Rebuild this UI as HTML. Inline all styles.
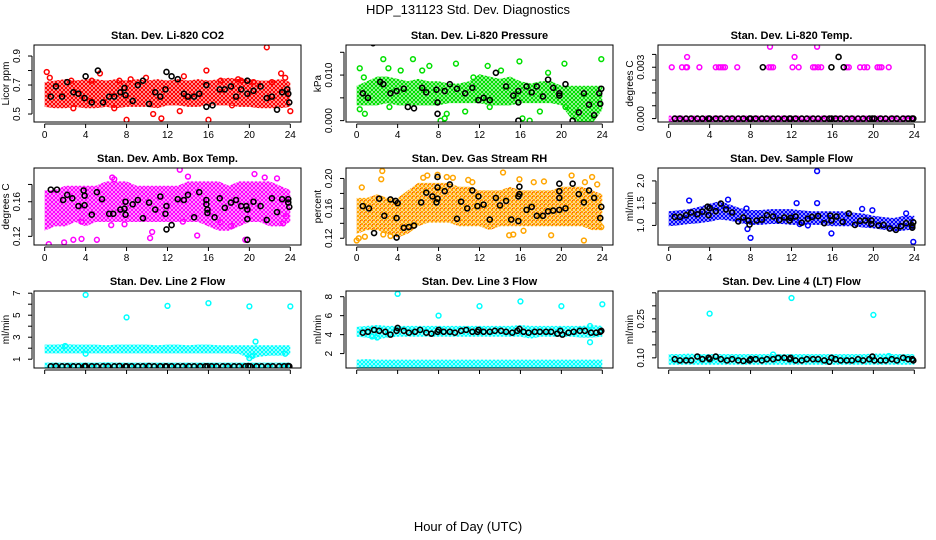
<!DOCTYPE html>
<html><head><meta charset="utf-8"><style>
html,body{margin:0;padding:0;background:#fff}
svg{display:block;font-family:"Liberation Sans",Arial,sans-serif}
</style></head><body>
<svg id="chart" width="936" height="540" viewBox="0 0 936 540" xmlns="http://www.w3.org/2000/svg">
<defs id="defs"></defs>
<text x="468" y="14" font-size="13" text-anchor="middle">HDP_131123  Std. Dev. Diagnostics</text>
<text x="468" y="531" font-size="13" text-anchor="middle">Hour of Day (UTC)</text>
</svg>
<script>
// ---------- shared data ----------
const hourTicks = [0,4,8,12,16,20,24];
const blackHours = [0.6,1.1,1.7,2.2,2.8,3.3,3.9,4.0,4.6,5.1,5.7,6.2,6.8,7.3,7.9,8.0,8.5,9.1,9.6,10.2,10.7,11.3,11.8,11.9,12.4,13.0,13.5,14.1,14.6,15.2,15.7,15.9,16.3,16.8,17.4,17.9,18.5,19.0,19.6,19.9,20.1,20.7,21.2,21.8,22.3,22.9,23.4,23.8,23.9];
const bandHours = [0,1,2,3,4,5,6,7,8,9,10,11,12,13,14,15,16,17,18,19,20,21,22,23,24];

// Panel 1: CO2
const co2Low  = [0.57,0.56,0.56,0.57,0.56,0.56,0.57,0.56,0.57,0.57,0.57,0.56,0.58,0.58,0.57,0.57,0.58,0.58,0.58,0.57,0.57,0.56,0.56,0.56,0.57];
const co2High = [0.70,0.71,0.72,0.71,0.72,0.72,0.71,0.72,0.71,0.72,0.71,0.72,0.71,0.72,0.71,0.72,0.71,0.72,0.73,0.72,0.72,0.71,0.71,0.72,0.70];
const co2OutH = [0.2,0.5,2.8,4.4,4.6,5.4,6.8,7.3,8.0,8.4,9.9,10.6,11.4,13.2,13.6,15.8,16.0,17.2,18.3,19.2,20.4,21.7,22.2,23.1,23.5,24,2.6,18.9];
const co2OutV = [0.79,0.75,0.54,0.59,0.73,0.78,0.54,0.73,0.46,0.74,0.75,0.50,0.47,0.52,0.76,0.80,0.46,0.73,0.56,0.73,0.72,0.96,0.72,0.78,0.75,0.52,0.73,0.74];
const co2BlkH = [0.6,1.1,1.7,2.2,2.8,3.3,3.9,4.0,4.6,5.2,5.7,6.3,6.8,7.4,7.8,7.9,8.6,9.1,9.6,10.2,10.8,11.3,11.8,11.9,12.4,13.0,13.6,14.0,14.6,15.1,15.8,15.8,16.4,17.1,17.6,18.2,18.7,19.2,19.8,19.8,20.4,21.1,21.7,22.2,22.7,23.2,23.7,23.9,23.8];
const co2BlkV = [0.62,0.69,0.62,0.72,0.65,0.64,0.61,0.76,0.58,0.80,0.58,0.62,0.62,0.65,0.68,0.63,0.59,0.70,0.73,0.57,0.65,0.62,0.67,0.79,0.76,0.74,0.64,0.62,0.62,0.64,0.70,0.55,0.56,0.67,0.67,0.69,0.62,0.67,0.73,0.64,0.66,0.69,0.61,0.62,0.53,0.65,0.67,0.58,0.64];

// Panel 2: Pressure
const presLow  = [0.004,0.004,0.004,0.0045,0.004,0.004,0.004,0.004,0.004,0.0045,0.0045,0.0045,0.0045,0.004,0.004,0.004,0.0045,0.0045,0.0045,0.0045,0.004,0.001,0.0,0.0,0.003];
const presHigh = [0.007,0.008,0.009,0.009,0.0085,0.008,0.0085,0.008,0.008,0.0075,0.0075,0.008,0.0095,0.009,0.0085,0.009,0.008,0.0075,0.008,0.008,0.007,0.007,0.007,0.007,0.007];
const presOutH = [0.3,0.3,0.7,0.8,2.6,3.1,3.2,4.3,5.5,6.4,7.1,8.2,8.8,9.7,10.6,11.4,12.8,14.1,15.9,16.2,16.9,17.9,18.7,20.3,20.4,23.9,8.6,13.0];
const presOutV = [0.0115,0.0025,0.0095,0.0015,0.0135,0.0115,0.003,0.011,0.0135,0.011,0.012,0.0,0.0015,0.0125,0.002,0.0095,0.012,0.011,0.013,0.0005,0.0,0.002,0.0105,0.0125,0.003,0.0135,0.0005,0.003];
const presBlkH = [0.6,1.1,1.6,2.3,2.6,3.3,3.9,4.6,5.0,5.6,6.4,6.8,7.8,7.9,7.9,8.6,9.1,9.8,10.6,11.3,11.9,12.4,13.0,13.6,14.6,15.3,15.8,15.8,15.8,16.6,17.1,17.6,18.2,18.7,19.2,19.8,19.8,20.4,21.1,21.7,22.2,22.7,23.2,23.7,23.8,23.9];
const presBlkV = [0.006,0.005,0.017,0.0085,0.008,0.006,0.0065,0.007,0.003,0.0027,0.0072,0.0062,0.0068,0.004,0.0015,0.0065,0.008,0.007,0.006,0.0072,0.0045,0.005,0.0045,0.0105,0.0075,0.0055,0.0065,0.004,0.0,0.0075,0.0062,0.0075,0.0053,0.009,0.0072,0.006,0.0055,0.008,0.0,0.0018,0.006,0.0035,0.0012,0.006,0.0037,0.007];

// Panel 3: Li-820 temperature
const tempLow  = [0,0,0,0,0,0,0,0,0,0,0,0,0,0,0,0,0,0,0,0,0,0,0,0,0];
const tempHigh = [0,0,0,0,0,0,0,0,0,0,0,0,0,0,0,0,0,0,0,0,0,0,0,0,0];
const tempOutH = [0.3,1.3,1.7,1.8,3.0,4.6,4.9,5.1,5.3,5.5,6.7,9.8,10.0,10.2,12.1,12.7,14.1,14.3,14.6,14.9,17.4,17.6,18.7,19.1,19.4,20.4,20.6,20.8,21.5,1.8,12.3,9.9,14.5];
const tempOutV = [0.003,0.003,0.003,0.003,0.003,0.003,0.003,0.003,0.003,0.003,0.003,0.003,0.003,0.003,0.003,0.003,0.003,0.003,0.003,0.003,0.003,0.003,0.003,0.003,0.003,0.003,0.003,0.003,0.003,0.0036,0.0036,0.0042,0.0042];
const tempBlkV = [0,0,0,0,0,0,0,0,0,0,0,0,0,0,0,0,0,0,0,0,0,0,0,0,0,0,0,0,0,0,0,0,0,0,0,0,0,0,0,0,0,0,0,0,0,0,0,0,0];
const tempBlk2H = [9.2,15.9,17.1,16.6];
const tempBlk2V = [0.003,0.003,0.003,0.0036];

// Panel 4: Amb box temp
const ambLow  = [0.13,0.135,0.135,0.14,0.135,0.14,0.14,0.14,0.14,0.14,0.14,0.14,0.14,0.14,0.14,0.14,0.135,0.13,0.13,0.135,0.14,0.14,0.135,0.135,0.14];
const ambHigh = [0.17,0.17,0.175,0.175,0.175,0.175,0.18,0.18,0.18,0.175,0.175,0.175,0.175,0.175,0.18,0.18,0.18,0.18,0.175,0.18,0.18,0.18,0.18,0.175,0.17];
const ambOutH = [0.4,1.9,2.8,3.6,3.6,5.1,6.5,6.8,7.8,10.3,10.5,13.2,13.5,14.0,14.9,17.2,18.2,19.6,20.5,21.5,22.7,23.3,23.6,6.6];
const ambOutV = [0.111,0.113,0.116,0.117,0.137,0.116,0.133,0.186,0.134,0.118,0.125,0.197,0.137,0.189,0.121,0.136,0.132,0.116,0.192,0.188,0.187,0.135,0.143,0.188];
const ambBlkH = [0.6,1.2,1.8,2.2,2.7,3.3,3.8,3.9,3.9,4.6,5.1,5.6,6.3,6.7,7.4,7.8,7.9,7.9,8.6,9.1,9.6,10.2,10.8,11.3,11.8,11.9,11.9,12.4,13.0,13.6,14.0,14.6,15.1,15.8,15.8,15.9,15.9,16.6,17.1,17.6,18.2,18.7,19.2,19.7,19.8,19.8,19.8,20.4,21.1,21.7,22.2,22.7,23.2,23.8,23.8,23.9];
const ambBlkV = [0.174,0.174,0.162,0.168,0.164,0.155,0.173,0.167,0.156,0.145,0.171,0.163,0.146,0.146,0.151,0.152,0.160,0.145,0.157,0.162,0.141,0.159,0.151,0.166,0.146,0.155,0.128,0.133,0.163,0.162,0.168,0.142,0.171,0.162,0.157,0.147,0.151,0.142,0.164,0.153,0.159,0.162,0.155,0.155,0.140,0.151,0.116,0.160,0.155,0.139,0.164,0.148,0.163,0.159,0.163,0.154];

// Panel 5: Gas stream RH
const rhLow  = [0.13,0.135,0.135,0.13,0.125,0.13,0.14,0.145,0.145,0.145,0.14,0.14,0.14,0.135,0.14,0.14,0.14,0.14,0.14,0.14,0.14,0.14,0.14,0.135,0.135];
const rhHigh = [0.17,0.17,0.175,0.17,0.17,0.18,0.19,0.19,0.19,0.19,0.185,0.185,0.18,0.18,0.18,0.185,0.18,0.18,0.18,0.18,0.185,0.185,0.185,0.18,0.175];
const rhOutH = [0,0.5,0.8,2.4,2.5,2.6,3.3,6.5,6.9,7.9,8.8,9.4,10.9,11.3,14.3,14.9,15.3,15.9,16.3,17.3,18.3,19.0,21.0,22.2,22.3,23.0,23.5,23.9,0.2];
const rhOutV = [0.117,0.188,0.122,0.199,0.210,0.125,0.123,0.201,0.204,0.205,0.202,0.201,0.198,0.195,0.208,0.124,0.125,0.199,0.130,0.195,0.196,0.124,0.204,0.117,0.195,0.202,0.192,0.135,0.120];
const rhBlkH = [0.6,1.2,1.7,2.2,2.7,3.3,3.8,3.9,3.9,4.0,4.6,5.1,5.6,6.3,6.8,7.4,7.8,7.9,7.9,7.9,8.6,9.1,9.8,10.2,10.8,11.3,11.8,11.9,12.4,13.0,13.6,14.0,14.6,15.1,15.8,15.8,15.9,15.9,16.6,17.1,17.6,18.2,18.7,19.2,19.8,19.8,19.8,19.8,20.4,21.1,21.7,22.2,22.7,23.2,23.8,23.9];
const rhBlkV = [0.163,0.160,0.127,0.173,0.150,0.172,0.170,0.147,0.121,0.167,0.134,0.135,0.137,0.168,0.181,0.176,0.168,0.173,0.188,0.202,0.183,0.192,0.146,0.169,0.160,0.184,0.163,0.176,0.165,0.145,0.174,0.164,0.170,0.145,0.143,0.176,0.179,0.189,0.158,0.162,0.150,0.150,0.156,0.157,0.158,0.174,0.183,0.193,0.160,0.193,0.179,0.168,0.184,0.174,0.147,0.162];

// Panel 6: Sample flow
const sfLow  = [1.05,1.07,1.1,1.12,1.15,1.2,1.17,1.12,1.08,1.08,1.1,1.1,1.08,1.08,1.08,1.08,1.05,1.05,1.05,1.02,1.0,0.97,0.93,0.95,0.98];
const sfHigh = [1.25,1.27,1.3,1.35,1.42,1.48,1.4,1.32,1.28,1.28,1.3,1.3,1.3,1.27,1.25,1.25,1.25,1.25,1.22,1.2,1.15,1.12,1.1,1.15,1.15];
const sfOutH = [2.0,5.8,7.6,7.7,8.0,12.5,14.5,14.5,15.9,18.9,19.9,23.2,23.9,12.8,13.6];
const sfOutV = [1.56,1.58,1.38,0.92,0.72,1.5,1.5,2.22,0.82,1.37,1.34,1.27,0.63,1.03,1.0];
const sfBlkH = [0.6,1.1,1.7,2.2,2.8,3.3,3.8,3.9,4.0,4.6,5.1,5.6,6.2,6.8,7.3,7.8,7.9,8.6,9.1,9.6,10.2,10.8,11.3,11.8,11.9,12.4,13.0,13.6,14.0,14.6,15.2,15.8,15.9,16.4,17.0,17.6,18.2,18.7,19.2,19.8,19.8,20.5,21.0,21.6,22.2,22.7,23.2,23.8,23.9,23.8];
const sfBlkV = [1.19,1.19,1.23,1.29,1.25,1.31,1.42,1.23,1.39,1.32,1.49,1.36,1.29,1.09,1.18,1.11,1.02,1.11,1.13,1.23,1.2,1.12,1.18,1.11,1.17,1.2,1.06,1.15,1.19,1.21,1.05,1.22,1.11,1.20,1.08,1.27,1.01,1.10,1.11,1.11,1.03,1.0,1.01,0.93,0.90,0.98,1.05,1.0,1.07,0.95];

// Panel 7: Line 2 flow
const l2Low  = [1.8,1.8,1.8,1.8,1.8,1.8,1.8,1.8,1.8,1.8,1.8,1.8,1.8,1.8,1.8,1.8,1.8,1.8,1.8,1.75,1.3,1.5,1.6,1.6,1.7];
const l2High = [2.05,2.05,2.1,2.05,2.05,2.05,2.0,2.05,2.05,2.05,2.05,2.0,2.05,2.05,2.0,2.05,2.05,2.0,2.0,2.0,2.0,2.0,2.0,2.0,2.0];
const l2BaseLow  = [0.3,0.3,0.3,0.3,0.3,0.3,0.3,0.3,0.3,0.3,0.3,0.3,0.3,0.3,0.3,0.3,0.3,0.3,0.3,0.3,0.3,0.3,0.3,0.3,0.3];
const l2BaseHigh = [0.42,0.42,0.42,0.42,0.42,0.42,0.45,0.42,0.42,0.42,0.42,0.42,0.42,0.42,0.42,0.42,0.42,0.42,0.42,0.42,0.42,0.42,0.42,0.42,0.42];
const l2OutH = [4,8,12,16,20,24,20,20.6,20.3,4,23.5,2.0];
const l2OutV = [6.85,4.8,5.85,6.1,5.8,5.8,1.1,2.6,1.3,1.5,1.5,2.2];
const l2BlkV = [0.35,0.38,0.35,0.35,0.35,0.35,0.35,0.38,0.35,0.35,0.35,0.35,0.35,0.38,0.35,0.35,0.35,0.35,0.35,0.38,0.35,0.35,0.35,0.35,0.35,0.35,0.35,0.35,0.35,0.35,0.35,0.35,0.35,0.35,0.35,0.35,0.35,0.35,0.35,0.38,0.35,0.35,0.35,0.35,0.35,0.35,0.35,0.38,0.35];

// Panel 8: Line 3 flow
const l3Low  = [4.1,4.0,3.8,4.0,4.1,4.1,4.1,4.1,4.1,4.1,4.1,4.1,4.1,4.1,4.1,4.1,4.1,3.9,4.1,4.1,4.1,4.1,4.0,4.0,4.1];
const l3High = [4.5,4.6,4.7,4.6,4.6,4.6,4.6,4.6,4.6,4.6,4.6,4.6,4.6,4.6,4.6,4.6,4.7,4.6,4.6,4.6,4.6,4.6,4.6,4.7,4.6];
const l3BaseLow  = [0.8,0.8,0.8,0.8,0.8,0.8,0.8,0.8,0.8,0.8,0.8,0.8,0.8,0.8,0.8,0.8,0.8,0.8,0.8,0.8,0.8,0.8,0.8,0.8,0.8];
const l3BaseHigh = [1.05,1.1,1.05,1.05,1.05,1.05,1.05,1.05,1.05,1.05,1.05,1.05,1.05,1.05,1.05,1.05,1.05,1.05,1.05,1.05,1.05,1.05,1.05,1.05,1.05];
const l3OutH = [4,8,12,16,20,24,22.8,22.8,1.5,2.0];
const l3OutV = [8.3,6.0,7.0,7.5,7.0,7.2,3.2,4.9,3.8,3.7];
const l3BlkV = [4.2,4.3,4.5,4.4,4.3,4.0,4.4,4.7,4.4,4.2,4.3,4.5,4.2,4.1,4.3,4.5,4.3,4.3,4.2,4.4,4.5,4.3,4.3,4.5,4.3,4.3,4.4,4.4,4.3,4.2,4.4,4.6,4.3,4.2,4.3,4.3,4.3,4.3,4.1,4.4,4.0,4.2,4.3,4.4,4.4,4.2,4.2,4.3,4.4];

// Panel 9: Line 4 (LT) flow
const l4Low  = [0.085,0.085,0.085,0.085,0.085,0.085,0.085,0.085,0.085,0.085,0.085,0.085,0.085,0.085,0.085,0.085,0.085,0.085,0.085,0.085,0.085,0.085,0.085,0.085,0.085];
const l4High = [0.103,0.103,0.105,0.103,0.103,0.103,0.103,0.103,0.103,0.103,0.103,0.103,0.103,0.103,0.103,0.103,0.103,0.103,0.103,0.103,0.105,0.105,0.103,0.103,0.103];
const l4OutH = [4,12,20,10.2,21.5];
const l4OutV = [0.27,0.33,0.265,0.113,0.107];
const l4BlkV = [0.095,0.09,0.09,0.09,0.105,0.095,0.1,0.095,0.105,0.095,0.09,0.095,0.09,0.088,0.09,0.095,0.095,0.09,0.095,0.095,0.1,0.1,0.095,0.1,0.09,0.09,0.095,0.095,0.095,0.09,0.085,0.1,0.095,0.09,0.09,0.09,0.095,0.09,0.095,0.105,0.09,0.09,0.09,0.095,0.09,0.1,0.095,0.095,0.09];

// ---------- panel definitions ----------
const cols = [34, 346, 658];
const rows = [45, 168, 291];
const W = 267, H = 77;
const panels = [
 {name:'co2', title:'Stan. Dev. Li-820 CO2', ylab:'Licor ppm', c:0, r:0, ymin:0.445, ymax:0.976, ticks:[0.5,0.6,0.7,0.8,0.9], labels:[0.5,0.7,0.9], fmt:1, color:'#ff0000',
  bands:[[co2Low,co2High]], outs:[[co2OutH,co2OutV]], blacks:[[co2BlkH,co2BlkV]]},
 {name:'pressure', title:'Stan. Dev. Li-820 Pressure', ylab:'kPa', c:1, r:0, ymin:-0.0003, ymax:0.0166, ticks:[0,0.005,0.01,0.015], labels:[0,0.01], fmt:3, color:'#00e000',
  bands:[[presLow,presHigh]], outs:[[presOutH,presOutV]], blacks:[[presBlkH,presBlkV]]},
 {name:'li820-temp', title:'Stan. Dev. Li-820 Temp.', ylab:'degrees C', c:2, r:0, ymin:-0.0002, ymax:0.0043, ticks:[0,0.00075,0.0015,0.00225,0.003,0.00375], labels:[0,0.003], fmt:3, color:'#ff00ff',
  bands:[[tempLow,tempHigh]], outs:[[tempOutH,tempOutV]], blacks:[[blackHours,tempBlkV],[tempBlk2H,tempBlk2V]]},
 {name:'amb-box-temp', title:'Stan. Dev. Amb. Box Temp.', ylab:'degrees C', c:0, r:1, ymin:0.110, ymax:0.199, ticks:[0.12,0.14,0.16,0.18], labels:[0.12,0.16], fmt:2, color:'#ff00ff',
  bands:[[ambLow,ambHigh]], outs:[[ambOutH,ambOutV]], blacks:[[ambBlkH,ambBlkV]]},
 {name:'gas-stream-rh', title:'Stan. Dev. Gas Stream RH', ylab:'percent', c:1, r:1, ymin:0.111, ymax:0.214, ticks:[0.12,0.14,0.16,0.18,0.2], labels:[0.12,0.16,0.2], fmt:2, color:'#ffa500', stroke2:'#ff0000',
  bands:[[rhLow,rhHigh]], outs:[[rhOutH,rhOutV]], blacks:[[rhBlkH,rhBlkV]]},
 {name:'sample-flow', title:'Stan. Dev. Sample Flow', ylab:'ml/min', c:2, r:1, ymin:0.56, ymax:2.29, ticks:[1,1.5,2], labels:[1,1.5,2], fmt:1, color:'#0000ff',
  bands:[[sfLow,sfHigh]], outs:[[sfOutH,sfOutV]], blacks:[[sfBlkH,sfBlkV]]},
 {name:'line2-flow', title:'Stan. Dev. Line 2 Flow', ylab:'ml/min', c:0, r:2, ymin:0.2, ymax:7.2, ticks:[1,2,3,4,5,6,7], labels:[1,3,5,7], fmt:0, color:'#00ffff', nolabelsX:true,
  bands:[[l2Low,l2High],[l2BaseLow,l2BaseHigh]], outs:[[l2OutH,l2OutV]], blacks:[[blackHours,l2BlkV]]},
 {name:'line3-flow', title:'Stan. Dev. Line 3 Flow', ylab:'ml/min', c:1, r:2, ymin:0.48, ymax:8.6, ticks:[2,4,6,8], labels:[2,4,6,8], fmt:0, color:'#00ffff', nolabelsX:true,
  bands:[[l3Low,l3High],[l3BaseLow,l3BaseHigh]], outs:[[l3OutH,l3OutV]], blacks:[[blackHours,l3BlkV]]},
 {name:'line4-flow', title:'Stan. Dev. Line 4 (LT) Flow', ylab:'ml/min', c:2, r:2, ymin:0.061, ymax:0.357, ticks:[0.1,0.15,0.2,0.25,0.3,0.35], labels:[0.1,0.25], fmt:2, color:'#00ffff', nolabelsX:true,
  bands:[[l4Low,l4High]], outs:[[l4OutH,l4OutV]], blacks:[[blackHours,l4BlkV]]}
];

const NS = 'http://www.w3.org/2000/svg';
const svg = document.getElementById('chart');
const defs = document.getElementById('defs');
function mk(tag, attrs, parent){
  const e = document.createElementNS(NS, tag);
  for (const k in attrs) e.setAttribute(k, attrs[k]);
  (parent||svg).appendChild(e);
  return e;
}

panels.forEach((p, pi) => {
  const bx = cols[p.c], by = rows[p.r];
  const xs = h => bx + W*0.04 + (h/24)*W*0.92;
  const ys = v => by + H - (v - p.ymin)/(p.ymax - p.ymin)*H;

  const g = mk('g', {});
  
  

  // pattern for dense cloud
  const pat = mk('pattern', {id:'pat'+pi, width:4, height:4, patternUnits:'userSpaceOnUse'}, defs);
  mk('rect', {x:0,y:0,width:4,height:4,fill:'#fff'}, pat);
  mk('circle', {cx:2, cy:2, r:1.5, fill:'none', stroke:p.color, 'stroke-width':1.3}, pat);
  if (p.stroke2) mk('circle', {cx:0, cy:0, r:0.9, fill:p.stroke2}, pat);

  const clip = mk('clipPath', {id:'clip'+pi}, defs);
  mk('rect', {x:bx, y:by, width:W, height:H}, clip);
  const inner = mk('g', {'clip-path':'url(#clip'+pi+')'}, g);

  // bands (dense clouds)
  p.bands.forEach((b, bi) => {
    const lo = b[0], hi = b[1];
    let d = '';
    bandHours.forEach((h, i) => { d += (i ? 'L' : 'M') + xs(h).toFixed(1) + ',' + (ys(hi[i]) - 3).toFixed(1); });
    for (let i = bandHours.length - 1; i >= 0; i--) d += 'L' + xs(bandHours[i]).toFixed(1) + ',' + (ys(lo[i]) + 3).toFixed(1);
    d += 'Z';
    const path = mk('path', {d:d, fill:'url(#pat'+pi+')', stroke:'none'}, inner);
    
    
  });
  // outliers
  p.outs.forEach(o => {
    o[0].forEach((h, i) => {
      const c = mk('circle', {cx:xs(h), cy:ys(o[1][i]), r:2.4, fill:'none', stroke:p.color, 'stroke-width':1.5}, inner);
      
      
    });
  });
  // black series
  p.blacks.forEach(b => {
    b[0].forEach((h, i) => {
      const c = mk('circle', {cx:xs(h), cy:ys(b[1][i]), r:2.5, fill:'none', stroke:'#000', 'stroke-width':1.6}, inner);
      
      
    });
  });

  // box
  const box = mk('rect', {x:bx, y:by, width:W, height:H, fill:'none', stroke:'#000', 'stroke-width':1}, g);
  
  

  // title
  const t = mk('text', {x:bx + W/2, y:by - 6, 'font-size':11, 'font-weight':'bold', 'text-anchor':'middle'}, g);
  t.textContent = p.title;
  
  

  // x axis
  const ax = by + H;
  mk('line', {x1:xs(0), x2:xs(24), y1:ax+2, y2:ax+2, stroke:'#000'}, g);
  hourTicks.forEach(h => {
    mk('line', {x1:xs(h), x2:xs(h), y1:ax+2, y2:ax+6, stroke:'#000'}, g);
    if (!p.nolabelsX) {
      const tl = mk('text', {x:xs(h), y:ax+16, 'font-size':10, 'text-anchor':'middle'}, g);
      tl.textContent = h;
      
      
    }
  });

  // y axis
  const ayx = bx - 2;
  mk('line', {x1:ayx, x2:ayx, y1:ys(p.ticks[0]), y2:ys(p.ticks[p.ticks.length-1]), stroke:'#000'}, g);
  p.ticks.forEach(v => {
    mk('line', {x1:ayx-4, x2:ayx, y1:ys(v), y2:ys(v), stroke:'#000'}, g);
  });
  p.labels.forEach(v => {
    const tx = ayx - 12, ty = ys(v);
    const tl = mk('text', {x:tx, y:ty, 'font-size':10, 'text-anchor':'middle', transform:'rotate(-90 '+tx+' '+ty+')'}, g);
    tl.textContent = v.toFixed(p.fmt);
    
    
  });
  const lx = bx - 25, ly = by + H/2;
  const yl = mk('text', {x:lx, y:ly, 'font-size':10, 'text-anchor':'middle', transform:'rotate(-90 '+lx+' '+ly+')'}, g);
  yl.textContent = p.ylab;
  
  
});
</script>
</body></html>
